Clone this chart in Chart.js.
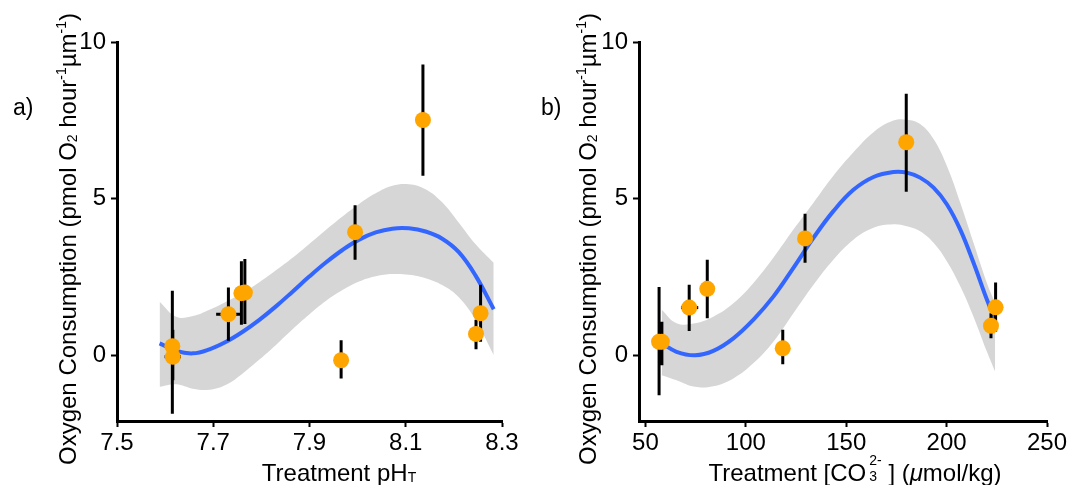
<!DOCTYPE html>
<html>
<head>
<meta charset="utf-8">
<script src="https://cdn.jsdelivr.net/npm/chart.js@4.4.1/dist/chart.umd.min.js"></script>
<style>
  html, body { margin: 0; padding: 0; background: #fff; }
  #wrap { position: relative; width: 1083px; height: 485px; overflow: hidden; }
  canvas { position: absolute; top: 0; }
  #chartA { left: 0; }
  #chartB { left: 540px; }
</style>
</head>
<body>
<div id="wrap">
  <canvas id="chartA" width="540" height="485"></canvas>
  <canvas id="chartB" width="543" height="485"></canvas>
</div>
<script>
// panel a) - treatment pH
const aPh    = [7.615, 7.616, 7.7315, 7.7585, 7.7657, 7.9657, 7.9947, 8.1357, 8.246, 8.2555];
const aRate  = [0.29, -0.05, 1.31, 1.98, 2.0, -0.16, 3.93, 7.51, 0.68, 1.34];
const aRateLo = [-1.87, -0.8, 0.46, 0.97, 1.0, -0.74, 3.05, 5.73, 0.19, 0.43];
const aRateHi = [2.06, 0.81, 2.16, 3.0, 3.07, 0.48, 4.79, 9.28, 1.13, 2.25];
const aPhLo  = [null, 7.599, 7.706, null, null, null, null, null, null, null];
const aPhHi  = [null, 7.633, 7.758, null, null, null, null, null, null, null];
const aFitX  = [7.5885, 7.6230, 7.6576, 7.6921, 7.7267, 7.7612, 7.7958, 7.8303, 7.8648, 7.8994, 7.9339,
                7.9685, 8.0030, 8.0376, 8.0721, 8.1066, 8.1412, 8.1757, 8.2103, 8.2448, 8.2828];
const aFit   = [0.38, 0.14, 0.06, 0.19, 0.43, 0.75, 1.13, 1.56, 2.03, 2.51, 2.96, 3.36, 3.69, 3.92, 4.04, 4.05, 3.95, 3.72, 3.29, 2.55, 1.47];
const aBandHi = [1.71, 1.23, 1.25, 1.45, 1.71, 1.99, 2.33, 2.71, 3.11, 3.55, 4.0, 4.43, 4.83, 5.17, 5.41, 5.46, 5.30, 4.88, 4.23, 3.55, 2.95];
const aBandLo = [-1.01, -0.93, -1.07, -1.1, -0.94, -0.58, -0.14, 0.33, 0.83, 1.30, 1.73, 2.08, 2.35, 2.52, 2.59, 2.57, 2.46, 2.24, 1.85, 1.13, 0.0];
const aTicksX = [7.5, 7.7, 7.9, 8.1, 8.3];

// panel b) - treatment carbonate
const bCo3   = [56.8, 58.2, 71.8, 80.8, 118.4, 129.5, 179.9, 222.1, 224.4];
const bRate  = [0.43, 0.43, 1.52, 2.12, 0.22, 3.73, 6.80, 0.94, 1.53];
const bRateLo = [-1.28, -0.32, 0.77, 1.18, -0.29, 2.95, 5.22, 0.54, 0.75];
const bRateHi = [2.18, 1.07, 2.25, 3.05, 0.81, 4.52, 8.35, 1.34, 2.32];
const bCo3Lo = [null, null, 67.7, null, null, null, null, null, null];
const bCo3Hi = [null, null, 76.3, null, null, null, null, null, null];
const bFitX  = [58.1, 65.5, 74.7, 83.8, 93.8, 103.7, 113.7, 123.7, 133.7, 143.6, 153.6, 163.6, 173.5, 180.2, 186.8, 193.5, 200.1, 206.8, 213.4, 220.1, 224.2];
const bFit   = [0.38, 0.11, 0.0, 0.14, 0.54, 1.13, 1.87, 2.79, 3.75, 4.60, 5.28, 5.69, 5.85, 5.83, 5.67, 5.35, 4.82, 4.01, 2.95, 1.77, 1.13];
const bBandHi = [1.45, 1.02, 1.02, 1.23, 1.66, 2.30, 3.11, 4.01, 4.87, 5.73, 6.48, 7.12, 7.49, 7.52, 7.38, 6.90, 6.05, 4.87, 3.59, 2.30, 1.66];
const bBandLo = [-0.64, -0.80, -1.01, -0.99, -0.74, -0.26, 0.43, 1.34, 2.25, 3.05, 3.69, 4.07, 4.18, 4.12, 3.96, 3.59, 3.0, 2.2, 1.23, 0.11, -0.53];
const bTicksX = [50, 100, 150, 200, 250];

const yTicks = [0, 5, 10];

const FONT = "'Liberation Sans', Arial, Helvetica, sans-serif";
const ORANGE = '#FFA500';
const BLUE = '#3366FF';
const BAND = '#D6D6D6';

const yTitle = [
  {t: 'Oxygen Consumption (pmol O'}, {t: '2', sub: true}, {t: ' hour'},
  {t: '-1', sup: true}, {t: 'µm'}, {t: '-1', sup: true}, {t: ')'}
];

// draws text pieces with sub/superscripts, returns width
function drawRich(ctx, segs, x, y, size, measureOnly) {
  let cx = x;
  for (const s of segs) {
    if (s.gap) { cx += s.gap; continue; }
    if (s.stack) {
      const sm = Math.round(size * 0.58);
      ctx.font = sm + 'px ' + FONT;
      const w = Math.max(ctx.measureText(s.stack[0]).width, ctx.measureText(s.stack[1]).width);
      if (!measureOnly) {
        ctx.fillText(s.stack[0], cx, y - size * 0.66);
        ctx.fillText(s.stack[1], cx, y);
      }
      cx += w;
      continue;
    }
    const sz = (s.sup || s.sub) ? Math.round(size * 0.6) : size;
    ctx.font = (s.it ? 'italic ' : '') + sz + 'px ' + FONT;
    const dy = s.sup ? -size * 0.42 : (s.sub ? 1 : 0);
    if (!measureOnly) ctx.fillText(s.t, cx, y + dy);
    cx += ctx.measureText(s.t).width;
  }
  return cx - x;
}

function labelsPlugin(p) {
  return {
    id: 'labels',
    afterDraw(chart) {
      const ctx = chart.ctx;
      ctx.save();
      ctx.fillStyle = '#000';
      ctx.textBaseline = 'alphabetic';
      ctx.textAlign = 'left';
      // panel letter
      ctx.font = '23px ' + FONT;
      ctx.fillText(p.letter, p.letterX, 115);
      // x title
      const wx = drawRich(ctx, p.xTitle, 0, 0, 24, true);
      drawRich(ctx, p.xTitle, p.xTitleC - wx / 2, 481, 24);
      // y title, rotated
      const wy = drawRich(ctx, yTitle, 0, 0, 24, true);
      ctx.translate(p.yTitleX, 13 + wy);
      ctx.rotate(-Math.PI / 2);
      drawRich(ctx, yTitle, 0, 0, 24);
      ctx.restore();
    }
  };
}

function errBars(xs, ys, lo, hi) {
  const pts = [];
  xs.forEach((x, i) => {
    pts.push({x: x, y: lo[i]}, {x: x, y: hi[i]}, {x: x, y: null});
  });
  return pts;
}

function xErrBars(xs, ys, lo, hi) {
  const pts = [];
  xs.forEach((x, i) => {
    if (lo[i] == null) return;
    pts.push({x: lo[i], y: ys[i]}, {x: hi[i], y: ys[i]}, {x: hi[i], y: null});
  });
  return pts;
}

function makePanel(id, d) {
  const line = (xs, ys) => xs.map((x, i) => ({x: x, y: ys[i]}));
  return new Chart(document.getElementById(id), {
    type: 'scatter',
    data: {
      datasets: [
        {
          data: line(d.x, d.y), order: 0,
          pointRadius: 8, pointHoverRadius: 8,
          backgroundColor: ORANGE, borderWidth: 0
        },
        {
          data: errBars(d.x, d.y, d.lo, d.hi), order: 1, showLine: true, spanGaps: false,
          borderColor: '#000', borderWidth: 3, pointRadius: 0, borderCapStyle: 'butt'
        },
        {
          data: xErrBars(d.x, d.y, d.xlo, d.xhi), order: 1, showLine: true, spanGaps: false,
          borderColor: '#000', borderWidth: 3, pointRadius: 0, borderCapStyle: 'butt'
        },
        {
          data: line(d.fitX, d.fit), order: 2, showLine: true,
          borderColor: BLUE, borderWidth: 4, pointRadius: 0, tension: 0.4
        },
        {
          data: line(d.fitX, d.bandHi), order: 3, showLine: true,
          borderColor: 'rgba(0,0,0,0)', pointRadius: 0, tension: 0.4,
          fill: {target: 5}, backgroundColor: BAND
        },
        {
          data: line(d.fitX, d.bandLo), order: 4, showLine: true,
          borderColor: 'rgba(0,0,0,0)', pointRadius: 0, tension: 0.4
        }
      ]
    },
    options: {
      responsive: false,
      animation: false,
      devicePixelRatio: 1,
      layout: {padding: {left: 0, right: d.padRight, top: 42, bottom: 0}},
      plugins: {legend: {display: false}, tooltip: {enabled: false}},
      events: [],
      scales: {
        x: {
          type: 'linear', min: d.xMin, max: d.xMax,
          afterBuildTicks: s => { s.ticks = d.ticks.map(v => ({value: v})); },
          afterFit: s => { s.height = 64; },
          ticks: {
            color: '#000', font: {family: FONT, size: 24}, padding: 2,
            maxRotation: 0, autoSkip: false, callback: d.fmt
          },
          grid: {drawOnChartArea: false, drawTicks: true, tickLength: 6, tickWidth: 2, tickColor: '#000'},
          border: {display: true, color: '#000', width: 3}
        },
        y: {
          type: 'linear', min: -2.1, max: 10,
          afterBuildTicks: s => { s.ticks = yTicks.map(v => ({value: v})); },
          afterFit: s => { s.width = d.yWidth; },
          ticks: {color: '#000', font: {family: FONT, size: 24}, padding: 5, callback: v => String(v)},
          grid: {drawOnChartArea: false, drawTicks: true, tickLength: 6, tickWidth: 2, tickColor: '#000'},
          border: {display: true, color: '#000', width: 3}
        }
      }
    },
    plugins: [labelsPlugin(d.labels)]
  });
}

makePanel('chartA', {
  x: aPh, y: aRate, lo: aRateLo, hi: aRateHi, xlo: aPhLo, xhi: aPhHi,
  fitX: aFitX, fit: aFit, bandHi: aBandHi, bandLo: aBandLo,
  xMin: 7.5, xMax: 8.3, ticks: aTicksX, fmt: v => v.toFixed(1),
  yWidth: 117, padRight: 38,
  labels: {
    letter: 'a)', letterX: 13, yTitleX: 76, xTitleC: 339,
    xTitle: [{t: 'Treatment pH'}, {t: 'T', sub: true}]
  }
});

makePanel('chartB', {
  x: bCo3, y: bRate, lo: bRateLo, hi: bRateHi, xlo: bCo3Lo, xhi: bCo3Hi,
  fitX: bFitX, fit: bFit, bandHi: bBandHi, bandLo: bBandLo,
  xMin: 46.8, xMax: 250, ticks: bTicksX, fmt: v => String(v),
  yWidth: 99, padRight: 36,
  labels: {
    letter: 'b)', letterX: 1, yTitleX: 56, xTitleC: 315,
    xTitle: [{t: 'Treatment [CO'}, {gap: 3}, {stack: ['2-', '3']}, {t: ' ] ('}, {t: 'μ', it: true}, {t: 'mol/kg)'}]
  }
});
</script>
</body>
</html>
